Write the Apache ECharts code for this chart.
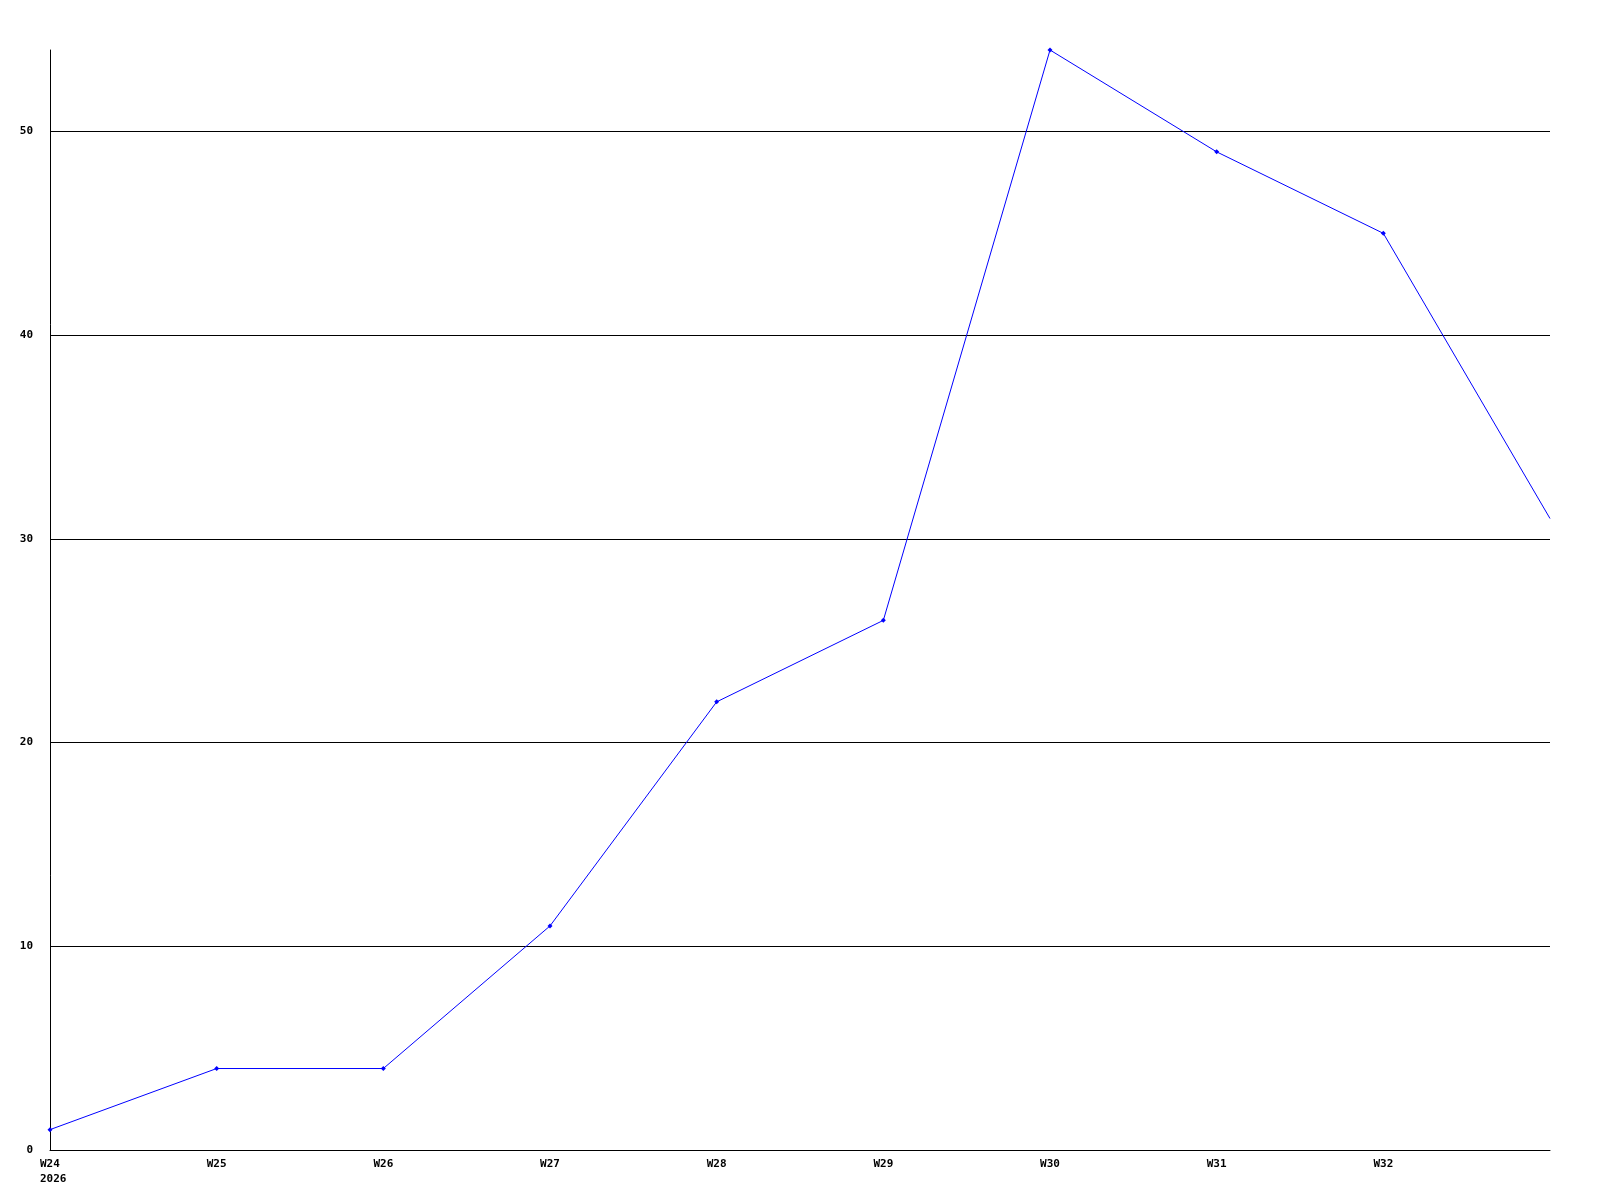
<!DOCTYPE html>
<html>
<head>
<meta charset="utf-8">
<script src="https://cdn.jsdelivr.net/npm/echarts@6/dist/echarts.min.js"></script>
<style>html,body{margin:0;padding:0;background:#fff;}#c{width:1600px;height:1200px;}</style>
</head>
<body>
<div id="c"></div>
<script>
const categories = ['W24','W25','W26','W27','W28','W29','W30','W31','W32','W33'];
const yearLabel = '2026';
const values = [1, 4, 4, 11, 22, 26, 54, 49, 45, 31];
const yMin = 0, yMax = 54, yInterval = 10;

const chart = echarts.init(document.getElementById('c'), null, {renderer: 'canvas'});
const font = {fontFamily: 'DejaVu Sans Mono', fontSize: 11, fontWeight: 'bold', color: '#000'};
const tok = {fontFamily: 'DejaVu Sans Mono', fontSize: 11, fontWeight: 'bold', color: '#000', width: 20, align: 'left', lineHeight: 15};
chart.setOption({
  animation: false,
  backgroundColor: '#fff',
  grid: {left: 50, right: 50, top: 50, bottom: 50, containLabel: false},
  xAxis: {
    type: 'category',
    data: categories,
    boundaryGap: false,
    axisLine: {lineStyle: {color: '#000', width: 1}},
    axisTick: {show: false},
    splitLine: {show: false},
    axisLabel: Object.assign({}, font, {
      margin: 7,
      lineHeight: 15,
      interval: 0,
      formatter: function (v, i) {
        if (i === categories.length - 1) return '';
        return i === 0 ? '{a|' + v + '}\n{a|' + yearLabel + '}' : v;
      },
      rich: {a: tok}
    })
  },
  yAxis: {
    type: 'value',
    min: yMin, max: yMax, interval: yInterval,
    axisLine: {show: true, lineStyle: {color: '#000', width: 1}},
    axisTick: {show: false},
    splitLine: {show: true, lineStyle: {color: ['#000','#000','#000','#000','#000','#000','rgba(0,0,0,0)'], width: 1}},
    axisLabel: Object.assign({}, font, {margin: 17, showMaxLabel: false})
  },
  series: [{
    type: 'line',
    data: values.map(function (v, i) {
      return i === values.length - 1 ? {value: v, symbol: 'none'} : v;
    }),
    symbol: 'diamond',
    symbolSize: 5,
    showSymbol: true,
    lineStyle: {color: '#0000ff', width: 1},
    itemStyle: {color: '#0000ff'}
  }]
});
</script>
</body>
</html>
